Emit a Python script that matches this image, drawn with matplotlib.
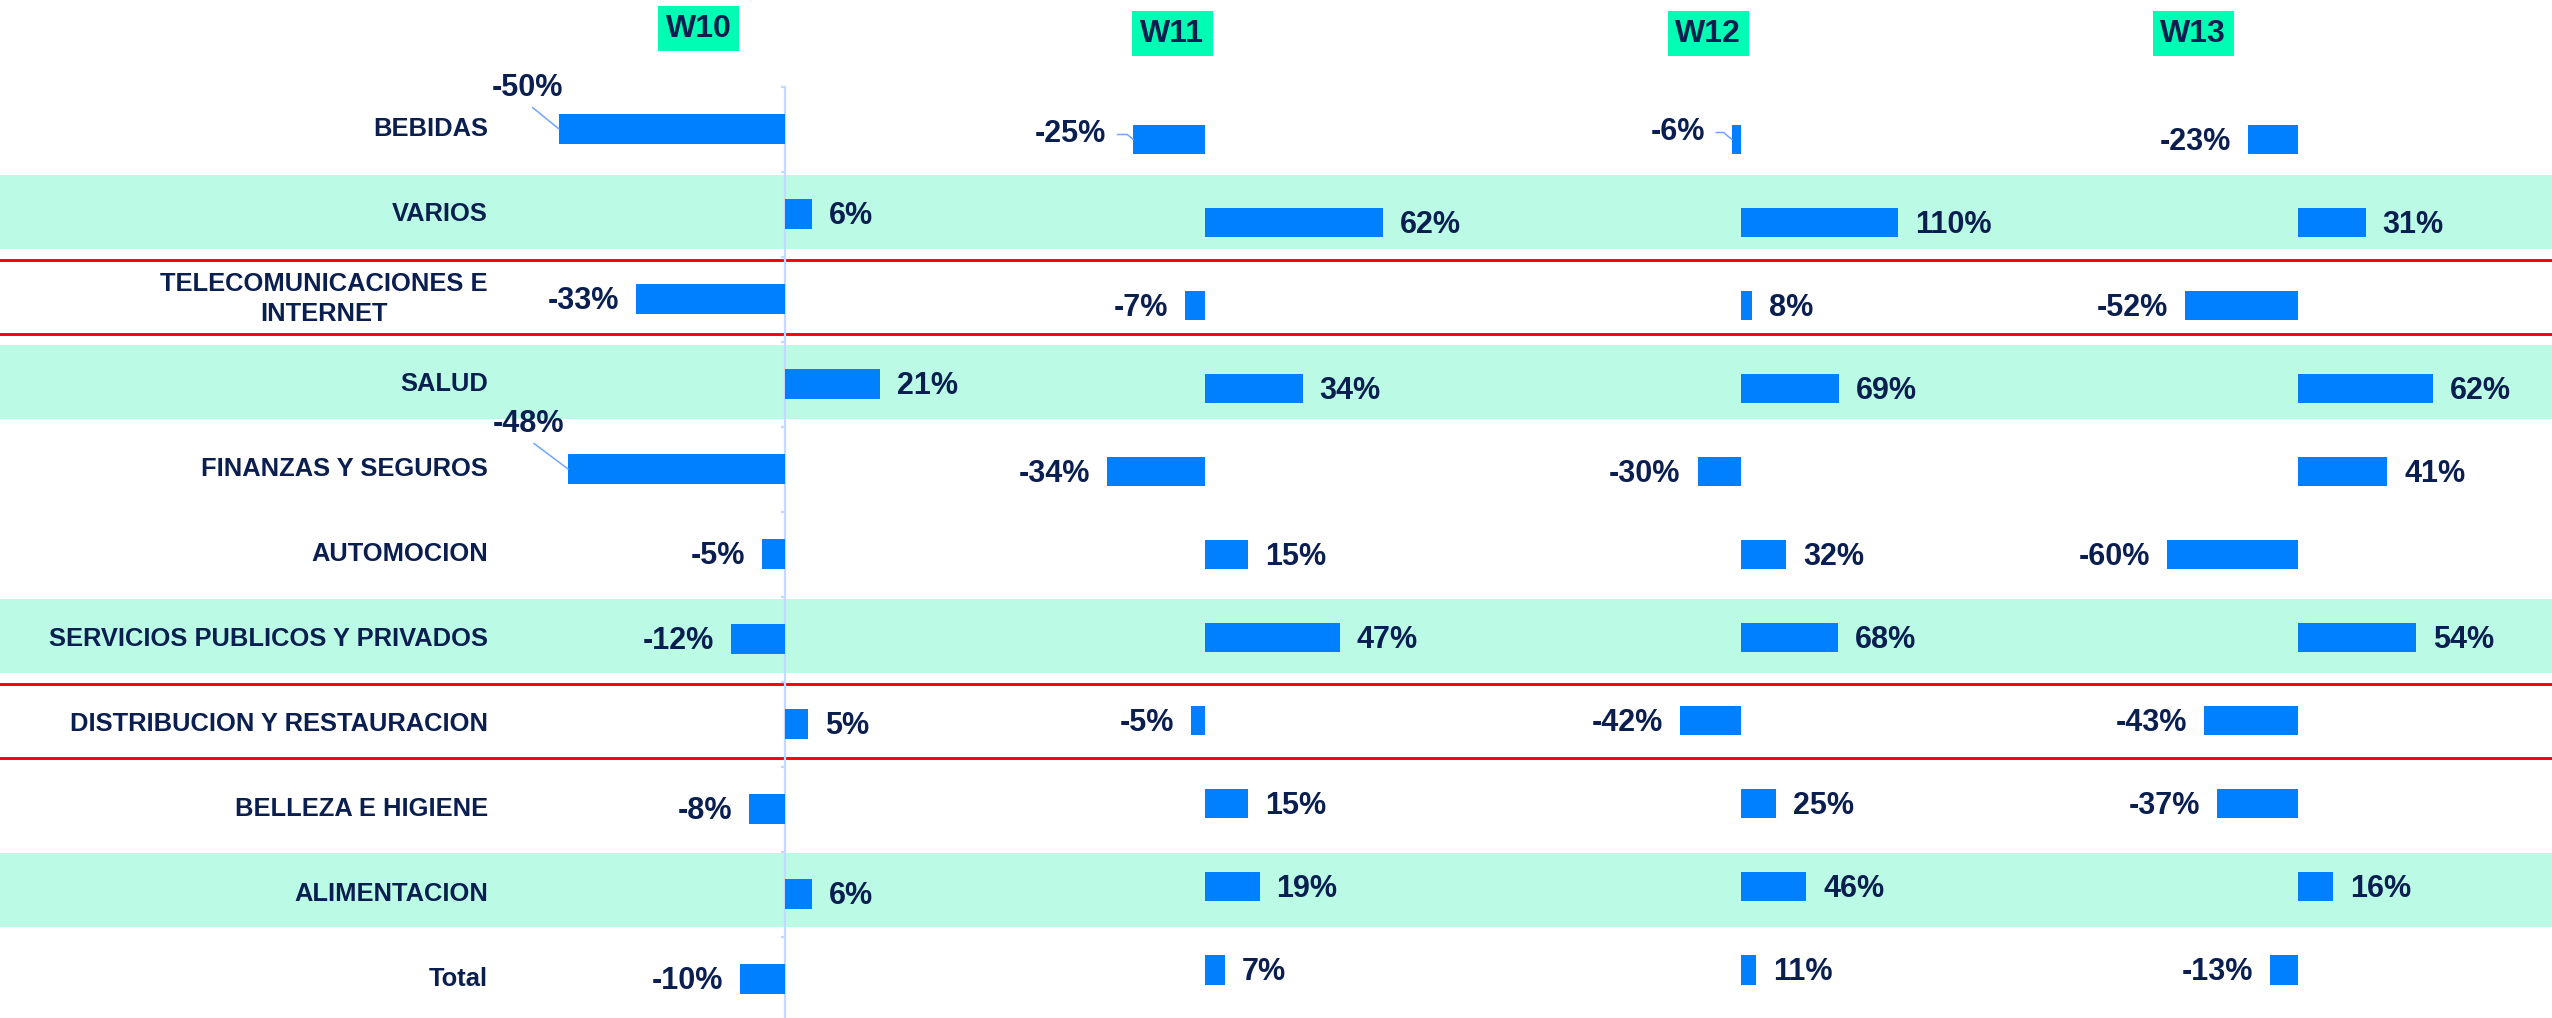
import numpy as np
import matplotlib.pyplot as plt
from matplotlib import transforms
from matplotlib.patches import Rectangle

plt.rcParams['font.family'] = ['Liberation Sans', 'DejaVu Sans']
plt.rcParams['font.weight'] = 'bold'

# data, top row first
categories = ['BEBIDAS', 'VARIOS', 'TELECOMUNICACIONES E\nINTERNET', 'SALUD',
              'FINANZAS Y SEGUROS', 'AUTOMOCION', 'SERVICIOS PUBLICOS Y PRIVADOS',
              'DISTRIBUCION Y RESTAURACION', 'BELLEZA E HIGIENE', 'ALIMENTACION', 'Total']
weeks = ['W10', 'W11', 'W12', 'W13']
w10 = [-50, 6, -33, 21, -48, -5, -12, 5, -8, 6, -10]
w11 = [-25, 62, -7, 34, -34, 15, 47, -5, 15, 19, 7]
w12 = [-6, 110, 8, 69, -30, 32, 68, -42, 25, 46, 11]
w13 = [-23, 31, -52, 62, 41, -60, 54, -43, -37, 16, -13]
series = [w10, w11, w12, w13]
shaded_rows = [1, 3, 6, 9]
boxed_rows = [2, 7]

W, H = 2552, 1018
NAVY = '#0a1f50'
BLUE = '#0080ff'
MINT = '#bbfbe6'
HEAD = '#00fdb4'
AXIS = '#c4d9ff'
LEADER = '#6fa6ff'

fig = plt.figure(figsize=(W / 100, H / 100), dpi=100)
fig.patch.set_facecolor('white')

# background layer in pixel coordinates (bands, red lines, header boxes)
bg = fig.add_axes([0, 0, 1, 1])
bg.set_xlim(0, W)
bg.set_ylim(H, 0)
bg.axis('off')
bg.set_zorder(0)


def bg_row(i):
    return 127.5 + 84.75 * i


for i in shaded_rows:
    bg.axhspan(bg_row(i) - 37, bg_row(i) + 37, color=MINT, lw=0)
for i in boxed_rows:
    for edge in (-37, 37):
        bg.axhline(bg_row(i) + edge, color='red', lw=2.1)

# each week is its own chart: zero line x (px), px per %, first row y (px), row step (px)
panels = [(785, 4.52, 129, 85.0),
          (1205, 2.87, 139.5, 83.05),
          (1740.5, 1.43, 139.5, 83.05),
          (2298, 2.18, 139.5, 83.05)]
header_pos = [(698.5, 28.5), (1172, 33.5), (1708, 33.5), (2193, 33.5)]

# labels that Excel pushed aside with a leader line: (panel, row) -> dx, dy px, kind
moved = {(0, 0): (-32, 41, 'straight'),
         (0, 4): (-40, 45, 'straight'),
         (1, 0): (-27, 5, 'elbow'),
         (2, 0): (-27, 7, 'elbow')}

rows = np.arange(len(categories))
axes = []
for p, (vals, (zero, scale, r0, step)) in enumerate(zip(series, panels)):
    top = r0 - 0.5 * step
    bottom = r0 + 10.5 * step
    ax = fig.add_axes([0, 1 - bottom / H, 1, (bottom - top) / H])
    ax.set_zorder(2 + p)
    ax.patch.set_visible(False)
    ax.set_xlim(-zero / scale, (W - zero) / scale)
    ax.set_ylim(10.5, -0.5)
    ax.barh(rows, vals, height=0.35, color=BLUE, zorder=3)
    for sp in ax.spines.values():
        sp.set_visible(False)
    ax.set_xticks([])
    if p == 0:
        ax.spines['left'].set_visible(True)
        ax.spines['left'].set_position(('data', 0))
        ax.spines['left'].set_color(AXIS)
        ax.spines['left'].set_linewidth(1.6)
        ax.set_yticks(np.arange(-0.5, 11, 1.0))
        ax.set_yticklabels([])
        ax.tick_params(axis='y', length=3, width=1.6, color=AXIS, direction='out')
    else:
        ax.set_yticks([])

    for i, v in enumerate(vals):
        txt = f'{v}%'
        if (p, i) in moved:
            dx, dy, kind = moved[(p, i)]
            if kind == 'straight':
                ax.annotate(txt, xy=(v, i), xytext=(dx, dy), textcoords='offset pixels',
                            ha='center', va='center', fontsize=22, color=NAVY,
                            annotation_clip=False,
                            arrowprops=dict(arrowstyle='-', color=LEADER, lw=1.1,
                                            relpos=(0.5, 0.0), shrinkA=2, shrinkB=0))
            else:
                ax.annotate(txt, xy=(v, i), xytext=(dx, dy), textcoords='offset pixels',
                            ha='right', va='center', fontsize=22, color=NAVY,
                            annotation_clip=False,
                            arrowprops=dict(arrowstyle='-', color=LEADER, lw=1.1,
                                            relpos=(1.0, 0.5), shrinkA=6, shrinkB=0,
                                            connectionstyle='angle,angleA=0,angleB=-40,rad=0'))
        else:
            off = 17 if v >= 0 else -17
            ax.annotate(txt, xy=(v, i), xytext=(off, -2), textcoords='offset pixels',
                        ha='left' if v >= 0 else 'right', va='center',
                        fontsize=22, color=NAVY, annotation_clip=False)
    axes.append(ax)

# category labels, right aligned against the W10 chart
trans = transforms.blended_transform_factory(bg.transData, axes[0].transData)
for i, name in enumerate(categories):
    bg.text(488, i, name, transform=trans, ha='right', va='center',
            multialignment='center', fontsize=18.4, color=NAVY, linespacing=1.3)

# week headers
for name, (cx, cy) in zip(weeks, header_pos):
    bg.add_patch(Rectangle((cx - 40.5, cy - 22.5), 81, 45, color=HEAD, lw=0))
    bg.text(cx, cy, name, ha='center', va='center', fontsize=23, color=NAVY)

fig.savefig('out.png', dpi=100, facecolor='white')
